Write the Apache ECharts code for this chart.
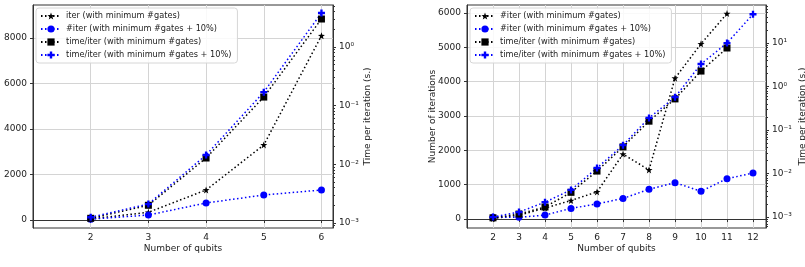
<!DOCTYPE html>
<html>
<head>
<meta charset="utf-8">
<script src="https://cdn.jsdelivr.net/npm/echarts@6/dist/echarts.min.js"></script>
<style>
  html, body { margin: 0; padding: 0; background: #fff; }
  #left { position: absolute; left: 0; top: 0; width: 402px; height: 267px; }
  #right { position: absolute; left: 402px; top: 0; width: 403px; height: 267px; }
</style>
</head>
<body>
<div id="left"></div>
<div id="right"></div>
<script>
// left plot
var qubitsA = [2, 3, 4, 5, 6];
var iterMinA = [50, 340, 1320, 3300, 8100];
var iterPlusA = [40, 220, 750, 1100, 1320];
var timeMinA = [0.0012, 0.002, 0.0128, 0.14, 3.0];
var timePlusA = [0.00125, 0.0021, 0.0144, 0.17, 3.8];

// right plot
var qubitsB = [2, 3, 4, 5, 6, 7, 8, 9, 10, 11, 12];
var iterMinB = [20, 110, 320, 540, 790, 1890, 1430, 4100, 5100, 5980];
var iterPlusB = [50, 50, 115, 310, 440, 600, 865, 1060, 810, 1175, 1340];
var timeMinB = [0.00096, 0.00117, 0.0017, 0.0037, 0.0114, 0.041, 0.16, 0.52, 2.27, 7.7];
var timePlusB = [0.001, 0.0013, 0.0022, 0.0042, 0.0134, 0.045, 0.19, 0.57, 3.3, 10, 46];

var ticksIterA = [0, 2000, 4000, 6000, 8000];
var ticksIterB = [0, 1000, 2000, 3000, 4000, 5000, 6000];
var ticksTime = [0.001, 0.01, 0.1, 1, 10];
var minorTime = [];
[0.0001, 0.001, 0.01, 0.1, 1, 10].forEach(function (d) {
    for (var k = 2; k <= 9; k++) minorTime.push(+(d * k).toPrecision(3));
});

var TXT = '#222';
var AX = '#333';
var GRID = '#d4d4d4';
var FONT = 'DejaVu Sans';

var starPath = 'path://M0,-10L2.35,-3.24L9.51,-3.09L3.8,1.24L5.88,8.09L0,4L-5.88,8.09L-3.8,1.24L-9.51,-3.09L-2.35,-3.24Z';
var plusPath = 'path://M-1,-3H1V-1H3V1H1V3H-1V1H-3V-1H-1Z';
var dots = [1.5, 2.5];

var sup = { '-': '⁻', '0': '⁰', '1': '¹', '2': '²', '3': '³', '4': '⁴' };
function powLabel(v) {
    var e = Math.log10(v);
    var r = Math.round(e);
    if (Math.abs(e - r) > 1e-6) return '';
    return '10' + String(r).split('').map(function (c) { return sup[c]; }).join('');
}

function pairs(xs, ys) {
    return ys.map(function (y, i) { return [xs[i], y]; });
}

function line(name, xs, ys, color, symbol, size, yIdx) {
    return {
        name: name,
        type: 'line',
        yAxisIndex: yIdx,
        data: pairs(xs, ys),
        symbol: symbol,
        symbolSize: size,
        showAllSymbol: true,
        itemStyle: { color: color },
        lineStyle: { color: color, width: 1.5, type: dots },
        animation: false
    };
}

function build(cfg) {
    var labelStyle = { color: TXT, fontSize: 9, fontFamily: FONT };
    return {
        textStyle: { fontFamily: FONT },
        grid: {
            left: cfg.gridLeft, top: 5, width: cfg.gridWidth, height: 223,
            outerBoundsMode: 'none', containLabel: false,
            show: true, borderColor: AX, borderWidth: 1, backgroundColor: 'transparent'
        },
        legend: {
            left: cfg.legendLeft, top: 8,
            orient: 'vertical',
            data: cfg.names,
            itemWidth: 20, itemHeight: 9, itemGap: 3,
            padding: [3, 6, 3, 4],
            backgroundColor: 'rgba(255,255,255,0.85)',
            borderColor: '#d6d6d6', borderWidth: 1, borderRadius: 3,
            textStyle: { color: TXT, fontSize: 8.2, fontFamily: FONT, lineHeight: 10 }
        },
        xAxis: {
            type: 'value', min: 1, max: cfg.xMax, interval: 1,
            name: 'Number of qubits', nameLocation: 'middle', nameGap: 16,
            nameMoveOverlap: false,
            nameTextStyle: labelStyle,
            axisLine: { lineStyle: { color: AX } },
            axisTick: { length: 3, lineStyle: { color: AX }, customValues: cfg.xs },
            axisLabel: Object.assign({ margin: 5, customValues: cfg.xs, formatter: function (v) {
                return (v >= 2 && Math.abs(v - Math.round(v)) < 1e-6) ? String(v) : '';
            } }, labelStyle),
            splitLine: { show: true, lineStyle: { color: GRID, width: 1 } }
        },
        yAxis: [{
            type: 'value', min: cfg.yMin, max: cfg.yMax, position: 'left',
            name: cfg.yName, nameLocation: 'middle', nameGap: 30,
            nameMoveOverlap: false,
            nameTextStyle: labelStyle,
            axisLine: { show: true, lineStyle: { color: AX } },
            axisTick: { show: true, length: 3, lineStyle: { color: AX }, customValues: cfg.yTicks },
            axisLabel: Object.assign({ margin: 6, customValues: cfg.yTicks, formatter: function (v) {
                return cfg.yTicks.indexOf(v) >= 0 ? String(v) : '';
            } }, labelStyle),
            splitLine: { show: true, lineStyle: { color: GRID, width: 1 } }
        }, {
            type: 'log', logBase: 10, min: cfg.tMin, max: cfg.tMax, position: 'right',
            name: 'Time per iteration (s.)', nameLocation: 'middle', nameGap: cfg.tGap,
            nameMoveOverlap: false,
            nameTextStyle: labelStyle,
            axisLine: { show: true, lineStyle: { color: AX } },
            axisTick: { show: true, length: 3, lineStyle: { color: AX }, customValues: ticksTime },
            axisLabel: Object.assign({ margin: 6, customValues: ticksTime, formatter: powLabel }, labelStyle),
            splitLine: { show: false }
        }, {
            type: 'log', logBase: 10, min: cfg.tMin, max: cfg.tMax, position: 'right',
            axisLine: { show: false },
            axisTick: { show: true, length: 2, lineStyle: { color: AX }, customValues: minorTime },
            axisLabel: { show: false },
            splitLine: { show: false }
        }],
        series: cfg.series
    };
}

var namesA = ['iter (with minimum #gates)', '#iter (with minimum #gates + 10%)',
    'time/iter (with minimum #gates)', 'time/iter (with minimum #gates + 10%)'];
var namesB = ['#iter (with minimum #gates)', '#iter (with minimum #gates + 10%)',
    'time/iter (with minimum #gates)', 'time/iter (with minimum #gates + 10%)'];

var chartA = echarts.init(document.getElementById('left'));
chartA.setOption(build({
    gridLeft: 33, gridWidth: 300, legendLeft: 36, xMax: 6.2, xs: qubitsA,
    yMin: -350, yMax: 9450, yTicks: ticksIterA, yName: '',
    tMin: 0.00082, tMax: 5.2, tGap: 30, names: namesA,
    series: [
        line(namesA[0], qubitsA, iterMinA, '#000000', starPath, 7, 0),
        line(namesA[1], qubitsA, iterPlusA, '#0000ff', 'circle', 7, 0),
        line(namesA[2], qubitsA, timeMinA, '#000000', 'rect', 7, 1),
        line(namesA[3], qubitsA, timePlusA, '#0000ff', plusPath, 7, 1)
    ]
}));

var chartB = echarts.init(document.getElementById('right'));
chartB.setOption(build({
    gridLeft: 65, gridWidth: 299, legendLeft: 68, xMax: 12.5, xs: qubitsB,
    yMin: -260, yMax: 6230, yTicks: ticksIterB, yName: 'Number of iterations',
    tMin: 0.00056, tMax: 75, tGap: 32, names: namesB,
    series: [
        line(namesB[0], qubitsB, iterMinB, '#000000', starPath, 7, 0),
        line(namesB[1], qubitsB, iterPlusB, '#0000ff', 'circle', 7, 0),
        line(namesB[2], qubitsB, timeMinB, '#000000', 'rect', 7, 1),
        line(namesB[3], qubitsB, timePlusB, '#0000ff', plusPath, 7, 1)
    ]
}));

window.addEventListener('resize', function () {
    chartA.resize();
    chartB.resize();
});
</script>
</body>
</html>
